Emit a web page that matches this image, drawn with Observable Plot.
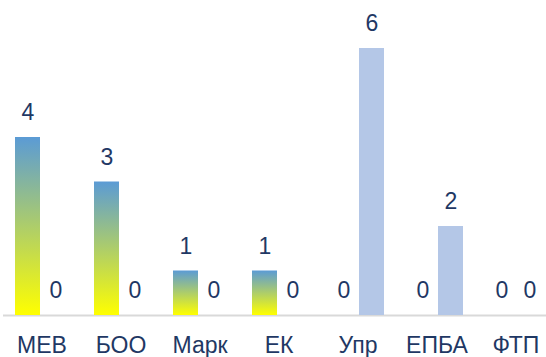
<!DOCTYPE html>
<html>
<head>
<meta charset="utf-8">
<script src="https://cdn.jsdelivr.net/npm/d3@7"></script>
<script src="https://cdn.jsdelivr.net/npm/@observablehq/plot@0.6"></script>
<style>
  html, body { margin: 0; padding: 0; background: #fff; }
</style>
</head>
<body>
<div id="chart"></div>
<script>
const categories = ["МЕВ", "БОО", "Марк", "ЕК", "Упр", "ЕПБА", "ФТП"];
const series1 = [4, 3, 1, 1, 0, 0, 0];
const series2 = [0, 0, 0, 0, 6, 2, 0];

const data1 = categories.map((c, i) => ({cat: c, v: series1[i]}));
const data2 = categories.map((c, i) => ({cat: c, v: series2[i]}));

const textColor = "#1F3864";
const fontFam = "'Liberation Sans', Arial, sans-serif";
const labelFont = {fontSize: 23, fontFamily: fontFam, fill: textColor};

const defsMark = () => {
  const ns = "http://www.w3.org/2000/svg";
  const defs = document.createElementNS(ns, "defs");
  defs.innerHTML = `
    <linearGradient id="grad" x1="0" y1="0" x2="0" y2="1">
      <stop offset="0" stop-color="#5B9BD5"/>
      <stop offset="1" stop-color="#FFFF00"/>
    </linearGradient>
    <filter id="shadow" x="-30%" y="-10%" width="160%" height="130%">
      <feDropShadow dx="0" dy="2" stdDeviation="2" flood-color="#000" flood-opacity="0.25"/>
    </filter>`;
  return defs;
};

const chart = Plot.plot({
  width: 546,
  height: 357,
  marginLeft: 3,
  marginRight: 0,
  marginTop: 48,
  marginBottom: 42,
  style: {fontFamily: fontFam, background: "#fff"},
  x: {domain: categories, paddingInner: 0.33, paddingOuter: 0.101, align: 0.75, label: null, axis: null},
  y: {domain: [0, 6], axis: null},
  marks: [
    defsMark,
    Plot.ruleY([0], {stroke: "#D9D9D9", strokeWidth: 2}),
    Plot.barY(data1, {x: "cat", y: "v", fill: "url(#grad)", insetRight: 28, filter: d => d.v > 0, style: "filter:url(#shadow)"}),
    Plot.barY(data2, {x: "cat", y: "v", fill: "#B4C7E7", insetLeft: 28, filter: d => d.v > 0}),
    Plot.text(data1, {x: "cat", y: "v", text: d => String(d.v), dx: -14, dy: -24.4, ...labelFont}),
    Plot.text(data2, {x: "cat", y: "v", text: d => String(d.v), dx: 14, dy: -24.4, ...labelFont}),
    Plot.axisX({tickSize: 0, tickPadding: 21, fontSize: 23, fontFamily: fontFam, color: textColor, label: null})
  ]
});
document.getElementById("chart").appendChild(chart);
</script>
</body>
</html>
